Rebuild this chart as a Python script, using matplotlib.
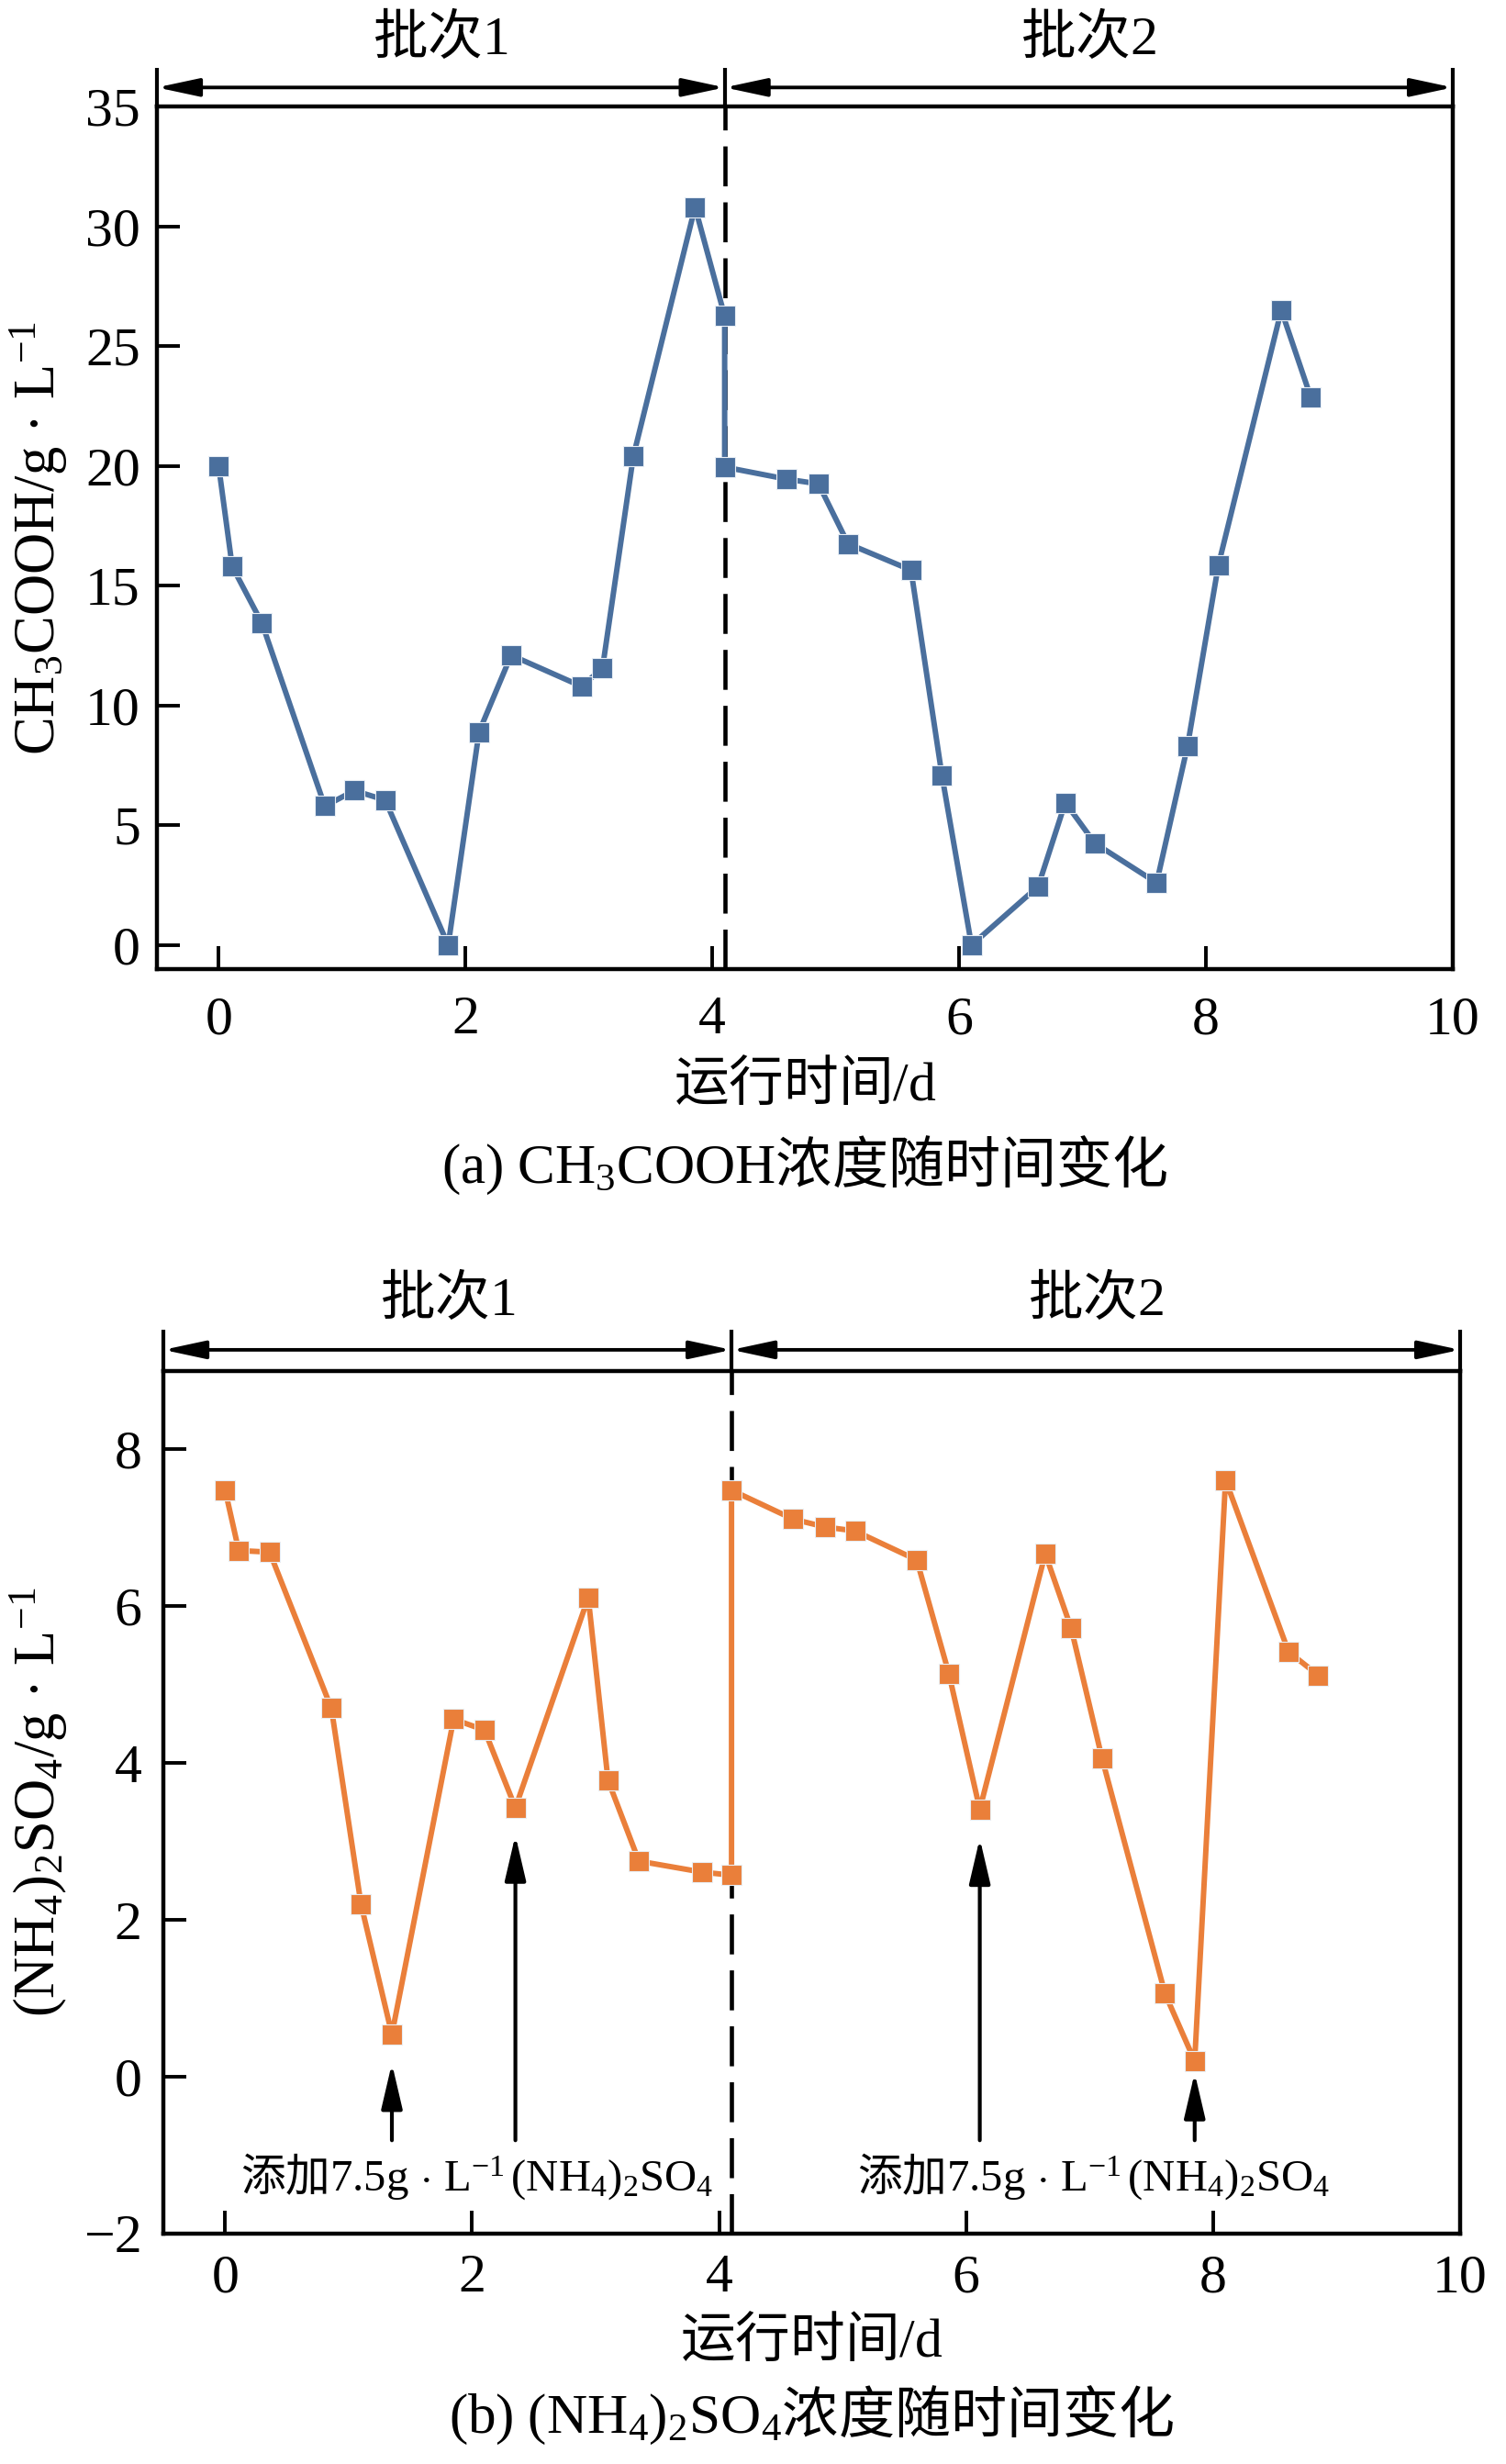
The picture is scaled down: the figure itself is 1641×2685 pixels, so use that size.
import matplotlib
matplotlib.use("Agg")
import matplotlib.pyplot as plt
import matplotlib.transforms as mtransforms

plt.rcParams['font.family'] = ['Liberation Serif', 'Noto Sans CJK SC']
plt.rcParams['mathtext.fontset'] = 'custom'
plt.rcParams['mathtext.rm'] = 'Liberation Serif'
plt.rcParams['mathtext.it'] = 'Liberation Serif:italic'
plt.rcParams['mathtext.bf'] = 'Liberation Serif:bold'
plt.rcParams['mathtext.default'] = 'regular'

CJK = 'Noto Sans CJK SC'

# ---- data ----
batch_split = 4.1
batch_labels = [r'批次$\mathrm{1}$', r'批次$\mathrm{2}$']

day_acid = [0, 0.11, 0.35, 0.86, 1.10, 1.35, 1.86, 2.11, 2.37, 2.94, 3.11, 3.36, 3.86, 4.10, 4.10,
            4.60, 4.86, 5.10, 5.61, 5.86, 6.10, 6.64, 6.86, 7.10, 7.60, 7.85, 8.10, 8.61, 8.85]
acetic = [20.0, 15.8, 13.45, 5.8, 6.45, 6.05, 0.0, 8.9, 12.1, 10.8, 11.55, 20.4, 30.8, 26.25, 19.95,
          19.45, 19.25, 16.75, 15.65, 7.1, 0.0, 2.45, 5.95, 4.25, 2.6, 8.3, 15.85, 26.5, 22.85]

day_amm = [0, 0.11, 0.36, 0.86, 1.10, 1.35, 1.85, 2.10, 2.35, 2.94, 3.10, 3.35, 3.86, 4.10, 4.10,
           4.60, 4.86, 5.10, 5.60, 5.86, 6.11, 6.64, 6.85, 7.10, 7.61, 7.85, 8.10, 8.61, 8.85]
ammonium = [7.48, 6.71, 6.69, 4.70, 2.20, 0.54, 4.56, 4.42, 3.43, 6.11, 3.78, 2.75, 2.61, 2.57, 7.48,
            7.11, 7.01, 6.96, 6.59, 5.14, 3.41, 6.67, 5.72, 4.06, 1.06, 0.20, 7.61, 5.42, 5.12]

# points where (NH4)2SO4 was dosed, with the gap between arrow tip and point
dose_idx = [5, 8, 20, 25]
dose_gap = [0.37, 0.35, 0.37, 0.15]
dose_base = -0.81
dose_text_x = [2.04, 7.03]
dose_text_y = -1.27
dose_text = r'添加$\mathrm{7.5g\,\cdot\,L^{-1}\,(NH_4)_2SO_4}$'

blue = '#4a6f9d'
orange = '#ea7f3a'


def draw_panel(ax, days, values, color, ylim, yticks, xpad, ypad, arrow_y, bar_top, label_y):
    ax.plot(days, values, color=color, lw=4.3, marker='s', ms=16,
            mfc=color, mec='#e8eef5', mew=0.8, zorder=3)
    ax.set_xlim(-0.5, 10)
    ax.set_ylim(*ylim)
    ax.set_xticks(range(0, 11, 2))
    ax.set_yticks(yticks)
    ax.tick_params(direction='in', length=18, width=2.8, labelsize=43,
                   top=False, right=False)
    ax.tick_params(axis='x', pad=xpad)
    ax.tick_params(axis='y', pad=ypad)
    for s in ax.spines.values():
        s.set_linewidth(3.2)
    ax.axvline(batch_split, color='black', lw=3.3, ls=(0, (9.5, 3.8)), zorder=2)

    # batch arrows above the axes
    trans = mtransforms.blended_transform_factory(ax.transData, ax.transAxes)
    x0, x1 = ax.get_xlim()
    spans = [(x0, batch_split), (batch_split, x1)]
    for (a, b), lab in zip(spans, batch_labels):
        ax.annotate('', xy=(b, arrow_y), xytext=(a, arrow_y), xycoords=trans, textcoords=trans,
                    arrowprops=dict(arrowstyle='<|-|>,head_length=1.4,head_width=0.3',
                                    lw=2.8, color='black', shrinkA=0, shrinkB=0,
                                    mutation_scale=20))
        ax.text((a + b) / 2, label_y, lab, transform=trans, ha='center', va='center',
                fontsize=43, family=CJK)
    for xb in (x0, batch_split, x1):
        ax.plot([xb, xb], [1.0, bar_top], transform=trans, clip_on=False,
                color='black', lw=3.0, solid_capstyle='butt')


fig = plt.figure(figsize=(16.41, 26.85), dpi=100)

# (a) acetic acid
ax1 = fig.add_axes([0.1042, 0.6067, 0.8605, 0.3501])
draw_panel(ax1, day_acid, acetic, blue, (-1, 35), range(0, 36, 5), 21, 13, 1.022, 1.045, 1.078)
ax1.text(-0.0914, 0.5, r'CH$_3$COOH/g · L$^{-1}$', transform=ax1.transAxes, rotation=90,
         ha='center', va='center', fontsize=45)
ax1.text(0.5, -0.135, r'运行时间$\mathrm{/d}$', transform=ax1.transAxes,
         ha='center', va='center', fontsize=43, family=CJK)
ax1.text(0.5, -0.228, r'$\mathrm{(a)\ CH_3COOH}$浓度随时间变化', transform=ax1.transAxes,
         ha='center', va='center', fontsize=44, family=CJK)

# (b) ammonium sulfate
ax2 = fig.add_axes([0.1085, 0.0935, 0.8611, 0.3501])
draw_panel(ax2, day_amm, ammonium, orange, (-2, 9), range(-2, 9, 2), 16, 17, 1.0245, 1.048, 1.082)
ax2.text(-0.0963, 0.5, r'(NH$_4$)$_2$SO$_4$/g · L$^{-1}$', transform=ax2.transAxes, rotation=90,
         ha='center', va='center', fontsize=45)
ax2.text(0.5, -0.1255, r'运行时间$\mathrm{/d}$', transform=ax2.transAxes,
         ha='center', va='center', fontsize=43, family=CJK)
ax2.text(0.5, -0.211, r'$\mathrm{(b)\ (NH_4)_2SO_4}$浓度随时间变化', transform=ax2.transAxes,
         ha='center', va='center', fontsize=44, family=CJK)

for i, g in zip(dose_idx, dose_gap):
    ax2.annotate('', xy=(day_amm[i], ammonium[i] - g), xytext=(day_amm[i], dose_base),
                 arrowprops=dict(arrowstyle='-|>,head_length=1.5,head_width=0.35',
                                 lw=3.0, color='black', shrinkA=0, shrinkB=0,
                                 mutation_scale=20))
for tx in dose_text_x:
    ax2.text(tx, dose_text_y, dose_text, ha='center', va='center', fontsize=35, family=CJK)

fig.savefig('out.png', dpi=100)
